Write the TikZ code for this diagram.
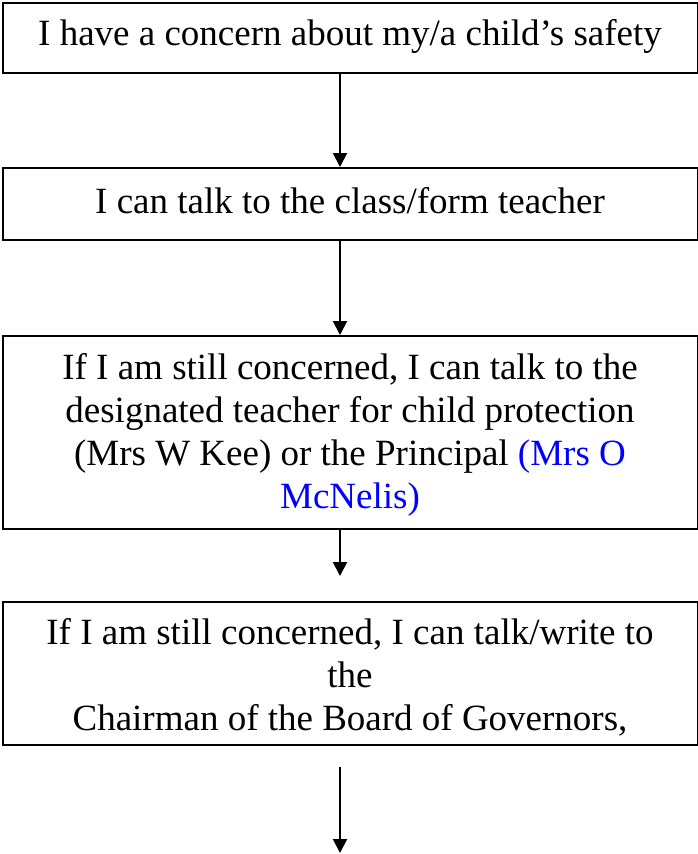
\documentclass[tikz,border=0pt]{standalone}
\usepackage{fontspec}
\setmainfont{Liberation Serif}
\usetikzlibrary{arrows.meta}
\definecolor{nameblue}{RGB}{0,0,255}
\begin{document}
\begin{tikzpicture}[x=1pt,y=-1pt,
  box/.style={draw,line width=1.8pt,minimum width=695pt,inner sep=0pt,anchor=north west},
  txt/.style={inner sep=0pt,align=center,anchor=base,font=\fontsize{37}{42.7}\selectfont},
  arr/.style={-{Triangle[width=14pt,length=14pt]},line width=2pt}]
\useasboundingbox (0,0) rectangle (698,854);
\node[box,minimum height=70pt] (b1) at (2,2) {};
\node[box,minimum height=72pt] (b2) at (2,167) {};
\node[box,minimum height=193pt] (b3) at (2,335) {};
\node[box,minimum height=143pt] (b4) at (2,601) {};
\node[txt] (t1) at (350,45) {I have a concern about my/a child’s safety};
\node[txt] (t2) at (350,213) {I can talk to the class/form teacher};
\node[txt] (t3) at (350,508) {If I am still concerned, I can talk to the\\designated teacher for child protection\\(Mrs W Kee) or the Principal \textcolor{nameblue}{(Mrs O}\\\textcolor{nameblue}{McNelis)}};
\node[txt] (t4) at (350,730) {If I am still concerned, I can talk/write to\\the\\Chairman of the Board of Governors,};
\coordinate (e3) at (340,576);
\coordinate (s4) at (340,767);
\coordinate (e4) at (340,853);
\draw[arr] (b1.south -| e3) -- (b2.north -| e3);
\draw[arr] (b2.south -| e3) -- (b3.north -| e3);
\draw[arr] (b3.south -| e3) -- (e3);
\draw[arr] (s4) -- (e4);
\end{tikzpicture}
\end{document}
